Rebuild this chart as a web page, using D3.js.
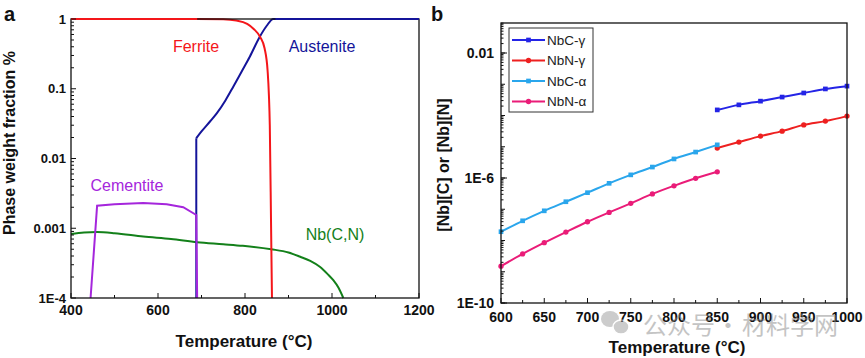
<!DOCTYPE html>
<html>
<head>
<meta charset="utf-8">
<script src="https://cdn.jsdelivr.net/npm/d3@7"></script>
<style>
  body { margin: 0; background: #fff; }
  svg { display: block; font-family: "Liberation Sans", Arial, sans-serif; }
</style>
</head>
<body>
<div id="chart"></div>
<script>
// panel a: phase fractions vs temperature
const ferriteT = [400, 690, 750, 780, 805, 820, 835, 845, 852, 855, 857, 860, 862];
const ferriteV = [1, 1, 0.99, 0.95, 0.85, 0.72, 0.55, 0.38, 0.18, 0.08, 0.03, 0.001, 0.0001];
const austeniteT = [688, 700, 720, 735, 755, 773, 793, 811, 834, 850, 865, 1200];
const austeniteV = [0.0195, 0.0244, 0.0342, 0.0444, 0.068, 0.107, 0.18, 0.288, 0.557, 0.8, 1, 1];
const austeniteStart = [0.0001, 0.0195]; // vertical jump at 688 °C
const cementiteT = [445, 460, 500, 566, 620, 658, 688, 690];
const cementiteV = [0.0001, 0.0021, 0.0022, 0.0023, 0.0022, 0.002, 0.00155, 0.0001];
const nbcnT = [400, 430, 460, 500, 566, 630, 690, 750, 795, 860, 900, 927, 950, 972, 990, 1003, 1015, 1026];
const nbcnV = [0.00083, 0.00087, 0.00088, 0.00085, 0.00076, 0.0007, 0.00063, 0.00059, 0.00056, 0.0005,
  0.00045, 0.00039, 0.00034, 0.00028, 0.00022, 0.00018, 0.00014, 0.0001];
const aXTicks = [400, 600, 800, 1000, 1200];
const aYTicks = [1e-4, 1e-3, 1e-2, 0.1, 1];
const aYLabels = ['1E-4', '0.001', '0.01', '0.1', '1'];

// panel b: solubility products
const gammaT = [850, 875, 900, 925, 950, 975, 1000];
const alphaT = [600, 625, 650, 675, 700, 725, 750, 775, 800, 825, 850];
const nbcGamma = [1.51e-4, 2.19e-4, 2.88e-4, 3.89e-4, 5.25e-4, 7.08e-4, 8.71e-4];
const nbnGamma = [9.1e-6, 1.41e-5, 2.19e-5, 3.16e-5, 5.01e-5, 6.61e-5, 9.55e-5];
const nbcAlpha = [1.91e-8, 4.27e-8, 8.91e-8, 1.74e-7, 3.39e-7, 6.76e-7, 1.26e-6, 2.24e-6, 4.07e-6, 6.76e-6, 1.15e-5];
const nbnAlpha = [1.51e-9, 3.72e-9, 8.51e-9, 1.86e-8, 3.98e-8, 7.94e-8, 1.55e-7, 3.09e-7, 5.62e-7, 9.77e-7, 1.58e-6];
const bXTicks = [600, 650, 700, 750, 800, 850, 900, 950, 1000];
const bYTicks = [1e-10, 1e-6, 1e-2];
const bYLabels = ['1E-10', '1E-6', '0.01'];

const W = 865, H = 358;
const svg = d3.select('#chart').append('svg').attr('width', W).attr('height', H);

function logMinors(lo, hi) {
  const out = [];
  for (let e = Math.floor(Math.log10(lo)); e < Math.ceil(Math.log10(hi)); e++)
    for (let k = 1; k <= 9; k++) {
      const v = k * Math.pow(10, e);
      if (v >= lo * 0.999 && v <= hi * 1.001) out.push(v);
    }
  return out;
}

function ticksY(g, y, x0, values, len) {
  g.selectAll(null).data(values).join('line')
    .attr('x1', x0).attr('x2', x0 + len)
    .attr('y1', d => y(d)).attr('y2', d => y(d))
    .attr('stroke', '#111').attr('stroke-width', 1);
}
function ticksX(g, x, y0, values, len) {
  g.selectAll(null).data(values).join('line')
    .attr('x1', d => x(d)).attr('x2', d => x(d))
    .attr('y1', y0).attr('y2', y0 - len)
    .attr('stroke', '#111').attr('stroke-width', 1);
}

// ---------- panel a ----------
const ax = d3.scaleLinear().domain([400, 1200]).range([71, 419]);
const ay = d3.scaleLog().domain([1e-4, 1]).range([298, 19]);
const ga = svg.append('g');

const lineA = d3.line().x(d => ax(d[0])).y(d => ay(d[1])).curve(d3.curveMonotoneX);
const straightA = d3.line().x(d => ax(d[0])).y(d => ay(d[1]));
const zip = (a, b) => a.map((v, i) => [v, b[i]]);

ga.append('path').datum(zip(nbcnT, nbcnV)).attr('d', lineA)
  .attr('fill', 'none').attr('stroke', '#13801a').attr('stroke-width', 2);
ga.append('path').datum(austeniteStart.map(v => [austeniteT[0], v])).attr('d', straightA)
  .attr('fill', 'none').attr('stroke', '#14149a').attr('stroke-width', 2);
ga.append('path').datum(zip(austeniteT, austeniteV)).attr('d', lineA)
  .attr('fill', 'none').attr('stroke', '#14149a').attr('stroke-width', 2);
ga.append('path').datum(zip(cementiteT, cementiteV)).attr('d', straightA)
  .attr('fill', 'none').attr('stroke', '#a526dc').attr('stroke-width', 2);
ga.append('path').datum(zip(ferriteT, ferriteV)).attr('d', lineA)
  .attr('fill', 'none').attr('stroke', '#f4161a').attr('stroke-width', 2);

// frame
ga.append('rect').attr('x', 71).attr('y', 19).attr('width', 348).attr('height', 279)
  .attr('fill', 'none').attr('stroke', '#111').attr('stroke-width', 1.3);
ga.append('line').attr('x1', ax(870)).attr('x2', 419).attr('y1', 19).attr('y2', 19)
  .attr('stroke', '#14149a').attr('stroke-width', 2);
ga.append('line').attr('x1', 71).attr('x2', ax(690)).attr('y1', 19).attr('y2', 19)
  .attr('stroke', '#f4161a').attr('stroke-width', 2);

ticksY(ga, ay, 71, logMinors(1e-4, 1).filter(v => !aYTicks.includes(v)), 3);
ticksY(ga, ay, 71, aYTicks, 5);
ticksX(ga, ax, 298, d3.range(500, 1200, 200), 3);
ticksX(ga, ax, 298, aXTicks, 5);

ga.selectAll(null).data(aYTicks).join('text')
  .attr('x', 66).attr('y', d => ay(d) + 4.5).attr('text-anchor', 'end')
  .attr('font-size', 13).attr('font-weight', 'bold').attr('fill', '#111')
  .text((d, i) => aYLabels[i]);
ga.selectAll(null).data(aXTicks).join('text')
  .attr('x', d => ax(d)).attr('y', 315).attr('text-anchor', 'middle')
  .attr('font-size', 14).attr('font-weight', 'bold').attr('fill', '#111')
  .text(d => d);

ga.append('text').attr('x', 244).attr('y', 347).attr('text-anchor', 'middle')
  .attr('font-size', 17).attr('font-weight', 'bold').attr('fill', '#111').text('Temperature (°C)');
ga.append('text').attr('transform', 'translate(15,143) rotate(-90)').attr('text-anchor', 'middle')
  .attr('font-size', 16).attr('font-weight', 'bold').attr('fill', '#111').text('Phase weight fraction %');
svg.append('text').attr('x', 4).attr('y', 21).attr('font-size', 20).attr('font-weight', 'bold')
  .attr('fill', '#111').text('a');

const labelsA = [
  { t: 'Ferrite', x: 196, y: 52, c: '#f4161a' },
  { t: 'Austenite', x: 322, y: 52, c: '#14149a' },
  { t: 'Cementite', x: 127, y: 191, c: '#a526dc' },
  { t: 'Nb(C,N)', x: 335, y: 240, c: '#13801a' },
];
ga.selectAll(null).data(labelsA).join('text')
  .attr('x', d => d.x).attr('y', d => d.y).attr('text-anchor', 'middle')
  .attr('font-size', 16).attr('fill', d => d.c).text(d => d.t);

// ---------- panel b ----------
const bx = d3.scaleLinear().domain([600, 1000]).range([501, 847]);
const by = d3.scaleLog().domain([1e-10, Math.pow(10, -1.04)]).range([303, 23]);
const gb = svg.append('g');

const series = [
  { name: 'NbC-\u03b3', T: gammaT, v: nbcGamma, c: '#2424e6', m: 'square' },
  { name: 'NbN-\u03b3', T: gammaT, v: nbnGamma, c: '#ee2020', m: 'circle' },
  { name: 'NbC-\u03b1', T: alphaT, v: nbcAlpha, c: '#2aa6ec', m: 'square' },
  { name: 'NbN-\u03b1', T: alphaT, v: nbnAlpha, c: '#ea1c78', m: 'circle' },
];
const lineB = d3.line().x(d => bx(d[0])).y(d => by(d[1])).curve(d3.curveMonotoneX);
const sym = { square: d3.symbolSquare, circle: d3.symbolCircle };

series.forEach(s => {
  const pts = zip(s.T, s.v);
  gb.append('path').datum(pts).attr('d', lineB)
    .attr('fill', 'none').attr('stroke', s.c).attr('stroke-width', 2);
  gb.selectAll(null).data(pts).join('path')
    .attr('transform', d => `translate(${bx(d[0])},${by(d[1])})`)
    .attr('d', d3.symbol().type(sym[s.m]).size(22)).attr('fill', s.c);
});

gb.append('rect').attr('x', 501).attr('y', 23).attr('width', 346).attr('height', 280)
  .attr('fill', 'none').attr('stroke', '#111').attr('stroke-width', 1.3);

const decades = d3.range(-10, -1).map(e => Math.pow(10, e));
ticksY(gb, by, 501, logMinors(1e-10, Math.pow(10, -1.04)).filter(v => !decades.some(d => Math.abs(v / d - 1) < 1e-6)), 2.5);
ticksY(gb, by, 501, decades, 4);
ticksY(gb, by, 501, bYTicks, 6);
ticksX(gb, bx, 303, d3.range(625, 1000, 50), 3);
ticksX(gb, bx, 303, bXTicks, 5);

gb.selectAll(null).data(bYTicks).join('text')
  .attr('x', 494).attr('y', d => by(d) + 5).attr('text-anchor', 'end')
  .attr('font-size', 14).attr('font-weight', 'bold').attr('fill', '#111')
  .text((d, i) => bYLabels[i]);
gb.selectAll(null).data(bXTicks).join('text')
  .attr('x', d => bx(d)).attr('y', 322).attr('text-anchor', 'middle')
  .attr('font-size', 14).attr('font-weight', 'bold').attr('fill', '#111')
  .text(d => d);

gb.append('text').attr('x', 677).attr('y', 353).attr('text-anchor', 'middle')
  .attr('font-size', 17).attr('font-weight', 'bold').attr('fill', '#111').text('Temperature (°C)');
gb.append('text').attr('transform', 'translate(449,165) rotate(-90)').attr('text-anchor', 'middle')
  .attr('font-size', 16).attr('font-weight', 'bold').attr('fill', '#111').text('[Nb][C] or [Nb][N]');
svg.append('text').attr('x', 431).attr('y', 21).attr('font-size', 20).attr('font-weight', 'bold')
  .attr('fill', '#111').text('b');

// legend
const leg = gb.append('g');
leg.append('rect').attr('x', 509).attr('y', 28).attr('width', 84).attr('height', 84)
  .attr('fill', '#fff').attr('stroke', '#333').attr('stroke-width', 1);
series.forEach((s, i) => {
  const yy = 40 + i * 20.5;
  leg.append('line').attr('x1', 512).attr('x2', 545).attr('y1', yy).attr('y2', yy)
    .attr('stroke', s.c).attr('stroke-width', 2);
  leg.append('path').attr('transform', `translate(528.5,${yy})`)
    .attr('d', d3.symbol().type(sym[s.m]).size(22)).attr('fill', s.c);
  leg.append('text').attr('x', 547).attr('y', yy + 4.5).attr('font-size', 13.5)
    .attr('fill', '#222').text(s.name);
});

// watermark
const wm = svg.append('g').attr('opacity', 0.5);
wm.append('ellipse').attr('cx', 610).attr('cy', 319).attr('rx', 9).attr('ry', 8).attr('fill', '#9a9a9a');
wm.append('ellipse').attr('cx', 621).attr('cy', 327).attr('rx', 8).attr('ry', 7).attr('fill', '#9a9a9a')
  .attr('stroke', '#fff').attr('stroke-width', 1.5);
const wmParts = [{ t: '公众号', x: 643 }, { t: '·', x: 716 }, { t: '材料学网', x: 742 }];
wm.selectAll(null).data(wmParts).join('text')
  .attr('x', d => d.x).attr('y', 334).attr('font-size', 24)
  .attr('font-family', '"Noto Sans CJK SC", sans-serif').attr('fill', '#8a8a8a')
  .text(d => d.t);
</script>
</body>
</html>
